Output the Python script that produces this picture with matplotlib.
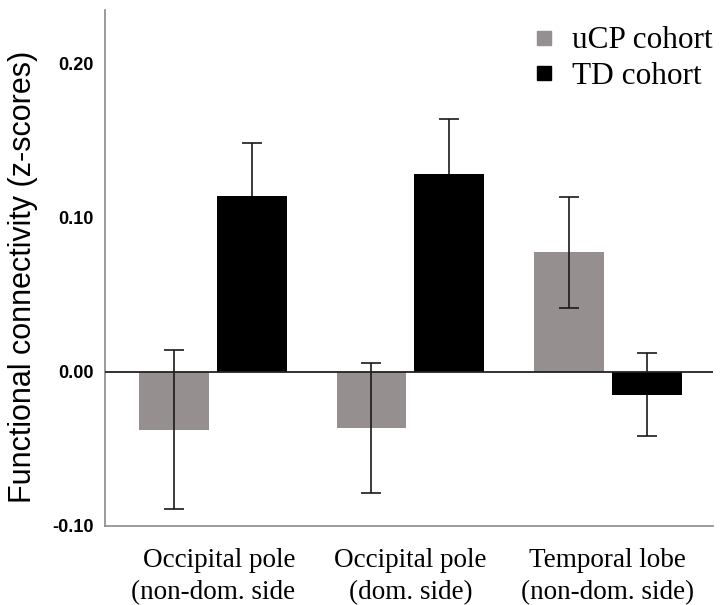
import numpy as np
import matplotlib.pyplot as plt
from matplotlib.lines import Line2D

# --- Data
regions = ['Occipital pole\n(non-dom. side', 'Occipital pole\n(dom. side)', 'Temporal lobe\n(non-dom. side)']
ucp_mean = [-0.0377, -0.0364, 0.0773]
ucp_err = [0.0515, 0.042, 0.036]
td_mean = [0.1136, 0.128, -0.0149]
td_err = [0.0344, 0.0356, 0.0268]
yticks = [-0.10, 0.00, 0.10, 0.20]

gray = '#968f8f'
x = np.arange(len(regions))
width = 0.354
off = 0.197

fig = plt.figure(figsize=(7.2, 6.05), dpi=100)
ax = fig.add_axes([0.1458, 0.1306, 0.8442, 0.8529])

# TD error bars sit behind the black bars, uCP ones are drawn over the grey bars
ax.errorbar(x + off, td_mean, yerr=td_err, fmt='none', ecolor='#1a1a1a',
            elinewidth=1.2, capsize=7.2, capthick=1.2, zorder=1)
ax.bar(x - off, ucp_mean, width, color=gray, zorder=2)
ax.bar(x + off, td_mean, width, color='black', zorder=2)
ax.errorbar(x - off, ucp_mean, yerr=ucp_err, fmt='none', ecolor='#1a1a1a',
            elinewidth=1.2, capsize=7.2, capthick=1.2, zorder=3)
ax.axhline(0, color='#222222', lw=1.3, zorder=4)

ax.set_xlim(-0.547, 2.532)
ax.set_ylim(-0.1, 0.2344)
ax.set_yticks(yticks)
ax.set_yticklabels(['%.2f' % v for v in yticks], family='Liberation Sans',
                   fontsize=13, fontweight='bold')
ax.set_xticks(x)
labels = ax.set_xticklabels(regions, family='Liberation Serif', fontsize=19.5,
                            linespacing=1.35)
labels[0].set_multialignment('right')
ax.tick_params(axis='both', length=0)
ax.tick_params(axis='y', pad=8)
ax.tick_params(axis='x', pad=16)

for side in ['top', 'right']:
    ax.spines[side].set_visible(False)
for side in ['left', 'bottom']:
    ax.spines[side].set_color('#8a8a8a')
    ax.spines[side].set_linewidth(1.2)

fig.text(23 / 720, 1 - 277 / 605, 'Functional connectivity (z-scores)',
         family='Liberation Sans', fontsize=22, rotation=90,
         ha='center', va='center')

handles = [Line2D([], [], marker='s', ls='none', color=gray, markersize=10),
           Line2D([], [], marker='s', ls='none', color='black', markersize=10)]
ax.legend(handles, ['uCP cohort', 'TD cohort'], loc='upper right',
          frameon=False, prop={'family': 'Liberation Serif', 'size': 22.5},
          handlelength=0.8, handletextpad=0.5, labelspacing=0.2,
          borderaxespad=0.0, borderpad=0.0, bbox_to_anchor=(1.0, 0.968))

fig.savefig('out.png', dpi=100)
